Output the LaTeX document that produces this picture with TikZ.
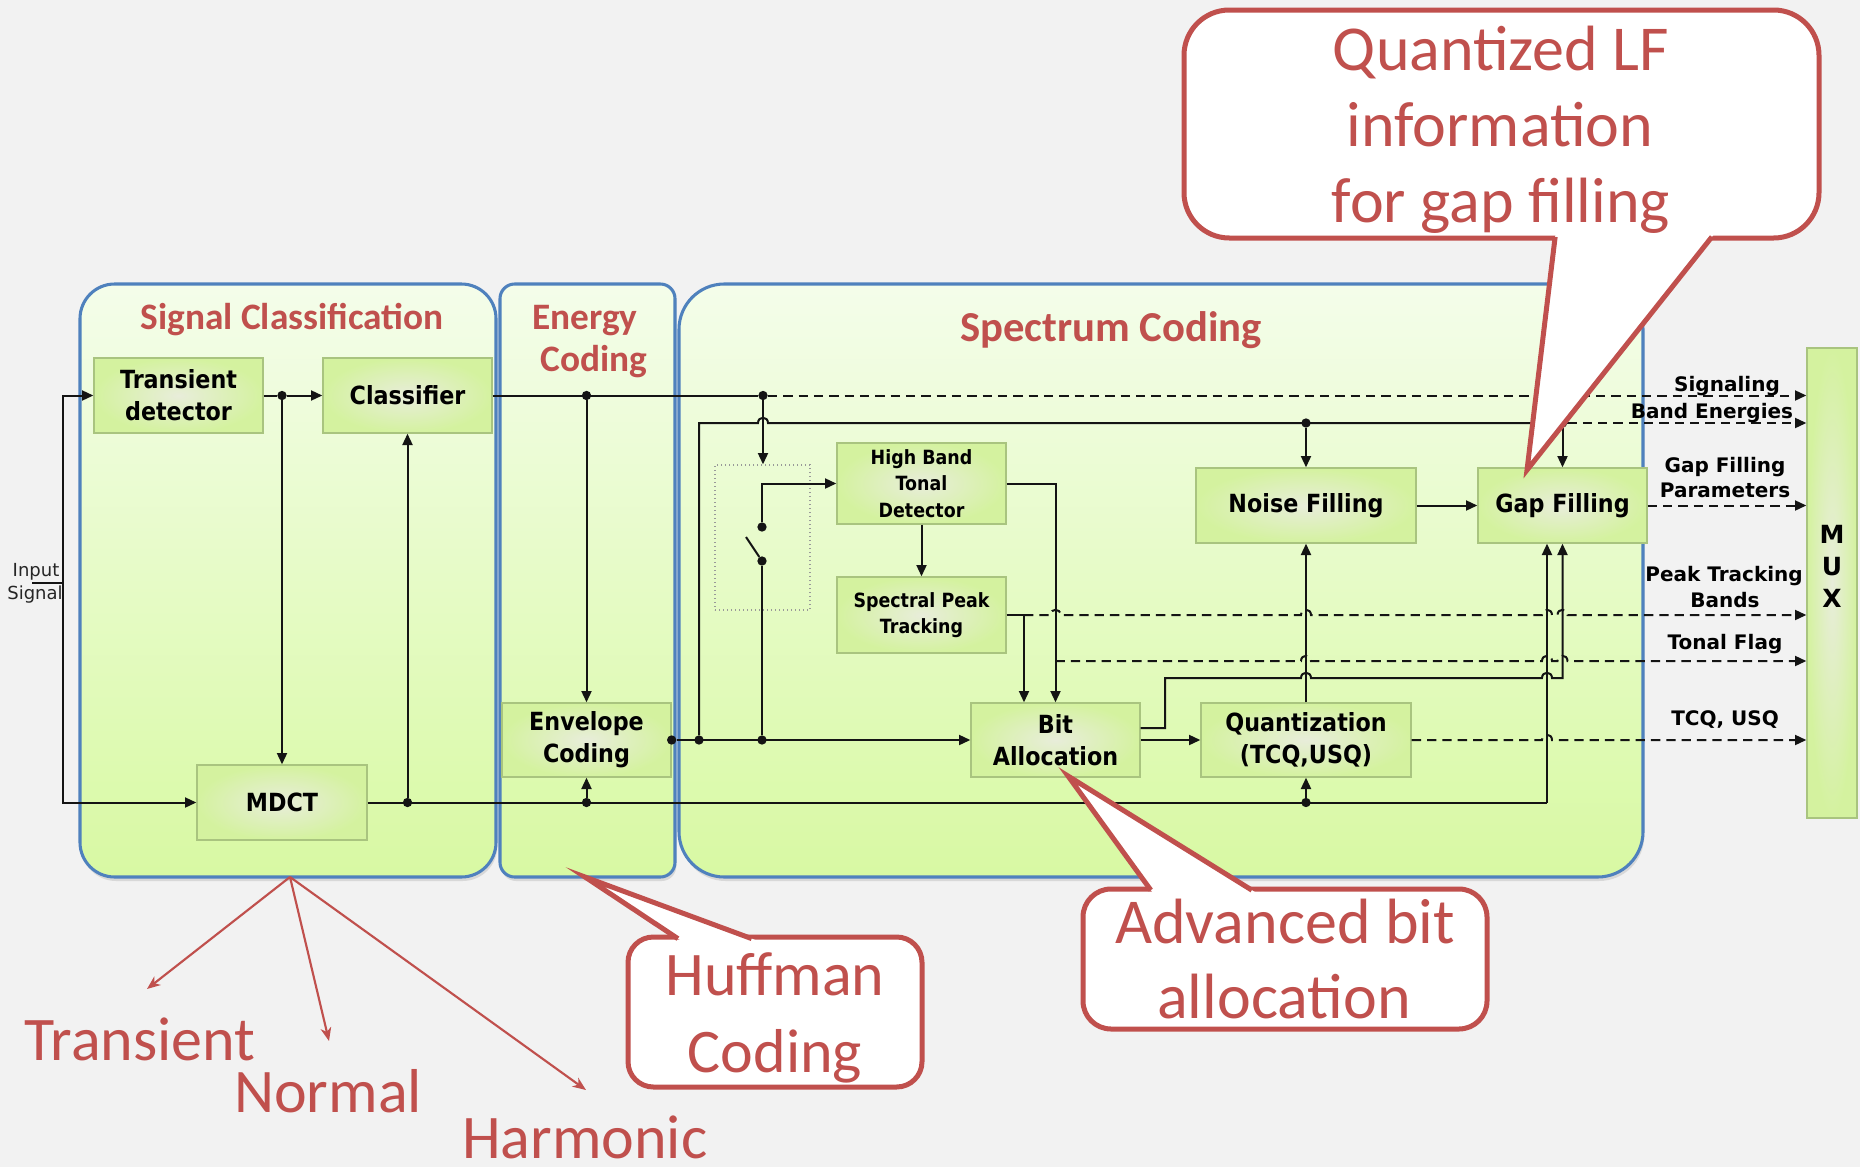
\documentclass[tikz,border=0pt]{standalone}
\usepackage{fontspec}
\usetikzlibrary{arrows.meta,calc,shadows}
\newfontfamily\boxfont[FakeStretch=0.89]{DejaVu Sans}
\newfontfamily\lblfont{DejaVu Sans}
\newfontfamily\callfont{Carlito}
\definecolor{bgc}{HTML}{F2F2F2}
\definecolor{regblue}{HTML}{4F81BD}
\definecolor{regtop}{HTML}{F4FDEA}
\definecolor{regbot}{HTML}{D8F9A3}
\definecolor{blkin}{HTML}{E8EDDA}
\definecolor{blkout}{HTML}{D4F29F}
\definecolor{blkedge}{HTML}{A9C47F}
\definecolor{accred}{HTML}{C0504D}
\definecolor{wirec}{HTML}{141414}
% small bump where a horizontal line jumps over a vertical one
\newcommand\hopover[2]{-- ({#1-5},#2) .. controls ({#1-5},{#2-7}) and ({#1+5},{#2-7}) .. ({#1+5},#2)}

\begin{document}
\begin{tikzpicture}[x=0.75pt,y=-0.75pt,
  regbox/.style={draw=regblue, line width=2.3pt, top color=regtop, bottom color=regbot, inner sep=0pt,
    drop shadow={shadow xshift=1pt, shadow yshift=-3pt, opacity=0.22}},
  blk/.style={draw=blkedge, line width=1pt, inner color=blkin, outer color=blkout,
    minimum width=126.75pt, minimum height=56.25pt, align=center, inner sep=1pt,
    font=\boxfont\bfseries\fontsize{18.75}{24}\selectfont},
  smallblk/.style={blk, font=\boxfont\bfseries\fontsize{14.7}{20}\selectfont},
  wire/.style={draw=wirec, line width=1.5pt},
  arr/.style={wire, -{Triangle[length=8.5pt,width=7.5pt]}},
  dsh/.style={wire, dash pattern=on 7pt off 4.5pt},
  darr/.style={dsh, -{Triangle[length=8.5pt,width=7.5pt]}},
  jdot/.style={circle, fill=wirec, inner sep=0pt, minimum size=7pt},
  regtitle/.style={text=accred, anchor=base, inner sep=0pt, font=\callfont\bfseries\fontsize{28}{34}\selectfont},
  lbl/.style={anchor=base, inner sep=0pt, text=black, font=\lblfont\bfseries\fontsize{15}{18}\selectfont},
  bubble/.style={draw=accred, fill=white, line width=3.75pt, inner sep=0pt},
  bubbletext/.style={anchor=base, inner sep=0pt, text=accred, font=\callfont\fontsize{48}{58}\selectfont},
  classarrow/.style={draw=accred, line width=1.6pt, -{Stealth[length=10pt,width=8pt,inset=3pt]}},
  classtext/.style={anchor=base west, inner sep=0pt, text=accred, font=\callfont\fontsize{46.5}{56}\selectfont},
]
\fill[bgc] (0,0) rectangle (1860,1167);
\useasboundingbox (0,0) rectangle (1860,1167);

% ---------- the three processing stages ----------
\node[regbox, rounded corners=26pt, minimum width=312pt, minimum height=444.75pt] (screg) at (288,580.5) {};
\node[regbox, rounded corners=11pt, minimum width=131.25pt, minimum height=444.75pt] (ecreg) at (587.5,580.5) {};
\node[regbox, rounded corners=34pt, minimum width=723pt, minimum height=444.75pt] (spreg) at (1161,580.5) {};

\node[regtitle] (sctitle) at (292,329) {Signal Classification};
\node[regtitle] (ectitle1) at (585,329) {Energy};
\node[regtitle] (ectitle2) at (594,371) {Coding};
\node[regtitle, font=\callfont\bfseries\fontsize{32}{38}\selectfont] (sptitle) at (1111,341) {Spectrum Coding};

% ---------- blocks ----------
\node[blk] (td) at (178.5,395.5) {Transient\\detector};
\node[blk] (cls) at (407.5,395.5) {Classifier};
\node[blk, minimum width=127.5pt] (mdct) at (282,802.5) {MDCT};
\node[blk, minimum height=55.5pt] (env) at (586.5,740) {Envelope\\Coding};
\node[smallblk, minimum height=60.75pt] (hbtd) at (921.5,483.5) {High Band\\Tonal\\Detector};
\node[smallblk, minimum height=57pt] (spt) at (921.5,615) {Spectral Peak\\Tracking};
\node[blk, minimum height=55.5pt] (ba) at (1055.5,740) {Bit\\Allocation};
\node[blk, minimum width=157.5pt, minimum height=55.5pt] (q) at (1306,740) {Quantization\\(TCQ,USQ)};
\node[blk, minimum width=165pt] (nf) at (1306,505.5) {Noise Filling};
\node[blk] (gf) at (1562.5,505.5) {Gap Filling};
\node[draw=blkedge, line width=1pt, inner color=blkin, outer color=blkout,
      minimum width=37.5pt, minimum height=352.5pt] (mux) at (1832,583) {};
\node[lbl, font=\lblfont\bfseries\fontsize{18.75}{20}\selectfont] (mux1) at (1832,543) {M};
\node[lbl, font=\lblfont\bfseries\fontsize{18.75}{20}\selectfont] (mux2) at (1832,575) {U};
\node[lbl, font=\lblfont\bfseries\fontsize{18.75}{20}\selectfont] (mux3) at (1832,607) {X};

% switch enclosure
\node[draw=gray!80, dotted, line width=1pt, minimum width=71.25pt, minimum height=108.75pt, inner sep=0pt] (swbox) at (762.5,537.5) {};

% ---------- input ----------
\node[anchor=base, inner sep=0pt, font=\lblfont\fontsize{13.5}{16}\selectfont, text=black!85] (lin1) at (36,576) {Input};
\node[anchor=base, inner sep=0pt, font=\lblfont\fontsize{13.5}{16}\selectfont, text=black!85] (lin2) at (35,599) {Signal};
\coordinate (inA) at (32,583);
\coordinate (inB) at (63,583);
\draw[wire] (inA) -- (inB);
\draw[arr] (inB) |- (td.west);
\draw[arr] (inB) |- (mdct.west);

% ---------- signal classification ----------
\node[jdot] (jtd) at (282,395.5) {};
\draw[wire] (td.east) -- (jtd);
\draw[arr] (jtd) -- (cls.west);
\draw[arr] (jtd) -- (mdct.north);

% MDCT spectrum bus
\node[jdot] (jm1) at (407.5,802.5) {};
\node[jdot] (jm2) at (586.5,802.5) {};
\node[jdot] (jm3) at (1306,802.5) {};
\coordinate (cm) at (1547,802.5);
\draw[wire] (mdct.east) -- (cm);
\draw[arr] (cm) -- (cm |- gf.south);
\draw[arr] (jm1) -- (cls.south);
\draw[arr] (jm2) -- (env.south);
\draw[arr] (jm3) -- (q.south);

% classifier output (signaling)
\node[jdot] (jc1) at (586.5,395.5) {};
\node[jdot] (jc2) at (763,395.5) {};
\draw[wire] (cls.east) -- (jc2);
\draw[darr] (jc2) -- (jc2 -| mux.west);
\draw[arr] (jc1) -- (env.north);
\draw[arr] (jc2) -- (jc2 |- swbox.north);

% ---------- envelope output ----------
\node[jdot] (je0) at (env.east) {};
\node[jdot] (je1) at (699,740) {};
\node[jdot] (je2) at (762,740) {};
\draw[arr] (je0) -- (ba.west);

% band energies
\node[jdot] (jb1) at (1306,423) {};
\node[jdot] (jb2) at (1562.5,423) {};
\draw[wire] (je1) -- (699,423) \hopover{763}{423} -- (jb2);
\draw[arr] (jb1) -- (nf.north);
\draw[arr] (jb2) -- (gf.north);
\draw[darr] (jb2) -- (jb2 -| mux.west);

% switch
\node[jdot] (swlo) at (762,561) {};
\node[jdot] (swhi) at (762,527) {};
\coordinate (lever) at (746,537);
\draw[wire] (je2) -- (swlo);
\draw[wire] (swlo) -- (lever);
\draw[arr] (swhi) |- (hbtd.west);

% ---------- tonal detection ----------
\draw[arr] (hbtd.south) -- (spt.north);
\draw[arr] (hbtd.east) -| (ba.north);
\coordinate (sp1) at (1024,615);
\draw[wire] (spt.east) -- (sp1);
\draw[arr] (sp1) -- (sp1 |- ba.north);
\draw[darr] (sp1) \hopover{1055.5}{615} \hopover{1306}{615} \hopover{1547}{615} \hopover{1562.5}{615} -- (mux.west |- sp1);
\coordinate (tf0) at (1055.5,661);
\draw[darr] (tf0) \hopover{1306}{661} \hopover{1547}{661} \hopover{1562.5}{661} -- (mux.west |- tf0);

% ---------- allocation, quantization, filling ----------
\draw[arr] (ba.east) -- (q.west);
\draw[arr] ($(ba.east)+(0,-12)$) -- (1165,728) -- (1165,678) \hopover{1306}{678} \hopover{1547}{678} -- (1562.5,678) -- (gf.south);
\draw[arr] (q.north) -- (nf.south);
\draw[darr] (q.east) \hopover{1547}{740} -- (mux.west |- q.east);
\draw[arr] (nf.east) -- (gf.west);
\draw[darr] (gf.east) -- (mux.west |- gf.east);

% ---------- multiplexer inputs ----------
\node[lbl] (lsig) at (1727,391) {Signaling};
\node[lbl] (lbe) at (1712,418) {Band Energies};
\node[lbl] (lgf1) at (1725,472) {Gap Filling};
\node[lbl] (lgf2) at (1725,497) {Parameters};
\node[lbl] (lpt1) at (1724,581) {Peak Tracking};
\node[lbl] (lpt2) at (1725,607) {Bands};
\node[lbl] (ltf) at (1725,649) {Tonal Flag};
\node[lbl] (ltcq) at (1725,725) {TCQ, USQ};

% ---------- callouts ----------
\node[bubble, rounded corners=34pt, minimum width=476.25pt, minimum height=171pt] (qlf) at (1501.5,124) {};
\coordinate (qlfA) at (1555,238);
\coordinate (qlfB) at (1711,238);
\coordinate (qlfT) at (1527,470);
\fill[white] ($(qlfT)!1.07!(qlfA)$) -- (qlfT) -- ($(qlfT)!1.07!(qlfB)$) -- cycle;
\draw[accred, line width=3.75pt, line join=miter] ($(qlfT)!1.005!(qlfA)$) -- (qlfT) -- ($(qlfT)!1.005!(qlfB)$);
\node[bubbletext] (qlf1) at (1501,70) {Quantized LF};
\node[bubbletext] (qlf2) at (1500,146) {information};
\node[bubbletext] (qlf3) at (1501,222) {for gap filling};

\node[bubble, rounded corners=21pt, minimum width=303pt, minimum height=105pt] (abn) at (1285,959) {};
\coordinate (abnA) at (1150,889);
\coordinate (abnB) at (1250,889);
\coordinate (abnT) at (1068,776);
\fill[white] ($(abnT)!1.1!(abnA)$) -- (abnT) -- ($(abnT)!1.1!(abnB)$) -- cycle;
\draw[accred, line width=3.75pt, line join=miter] ($(abnT)!1.01!(abnA)$) -- (abnT) -- ($(abnT)!1.01!(abnB)$);
\node[bubbletext] (abn1) at (1285,943) {Advanced bit};
\node[bubbletext] (abn2) at (1284,1018) {allocation};

\node[bubble, rounded corners=19pt, minimum width=220.5pt, minimum height=112.5pt] (huf) at (775,1012) {};
\coordinate (hufA) at (677,938);
\coordinate (hufB) at (750,938);
\coordinate (hufT) at (585,877);
\fill[white] ($(hufT)!1.12!(hufA)$) -- (hufT) -- ($(hufT)!1.12!(hufB)$) -- cycle;
\draw[accred, line width=3.75pt, line join=miter] ($(hufT)!1.01!(hufA)$) -- (hufT) -- ($(hufT)!1.01!(hufB)$);
\node[bubbletext, font=\callfont\fontsize{46.5}{56}\selectfont] (huf1) at (775,995) {Huffman};
\node[bubbletext, font=\callfont\fontsize{46.5}{56}\selectfont] (huf2) at (775,1072) {Coding};

% ---------- signal classes ----------
\coordinate (cls0) at (290,877);
\coordinate (nTr) at (147,989);
\coordinate (nNo) at (329,1041);
\coordinate (nHa) at (586,1090);
\draw[classarrow] (cls0) -- (nTr);
\draw[classarrow] (cls0) -- (nNo);
\draw[classarrow] (cls0) -- (nHa);
\node[classtext] (cTr) at (24,1060) {Transient};
\node[classtext] (cNo) at (234,1112) {Normal};
\node[classtext] (cHa) at (462,1158) {Harmonic};
\end{tikzpicture}
\end{document}
